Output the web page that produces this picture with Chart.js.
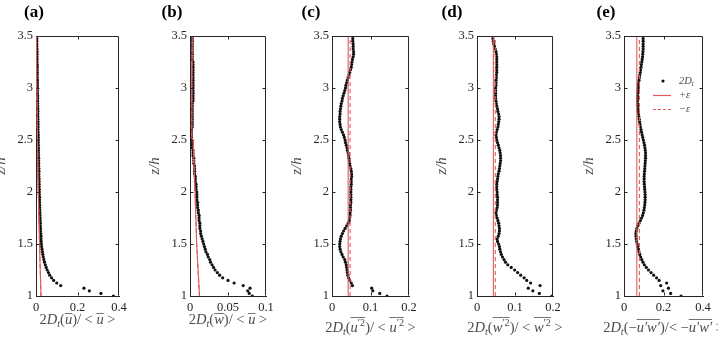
<!DOCTYPE html>
<html>
<head>
<meta charset="utf-8">
<script src="https://cdn.jsdelivr.net/npm/chart.js@4.4.1/dist/chart.umd.min.js"></script>
<style>
  body { margin: 0; background: #fff; width: 718px; height: 337px; overflow: hidden; position: relative; }
  canvas { position: absolute; top: 0; }
</style>
</head>
<body>
<canvas id="pa"></canvas>
<canvas id="pb"></canvas>
<canvas id="pc"></canvas>
<canvas id="pd"></canvas>
<canvas id="pe"></canvas>
<script>
// heights z/h shared by all five profiles
const zLevels = [1.000,1.025,1.050,1.075,1.100,1.125,1.150,1.175,1.200,1.225,1.250,1.275,1.300,1.325,1.350,1.375,1.400,1.425,1.450,1.475,
  1.500,1.525,1.550,1.575,1.600,1.625,1.650,1.675,1.700,1.725,1.750,1.775,1.800,1.825,1.850,1.875,1.900,1.925,1.950,1.975,
  2.000,2.025,2.050,2.075,2.100,2.125,2.150,2.175,2.200,2.225,2.250,2.275,2.300,2.325,2.350,2.375,2.400,2.425,2.450,2.475,
  2.500,2.525,2.550,2.575,2.600,2.625,2.650,2.675,2.700,2.725,2.750,2.775,2.800,2.825,2.850,2.875,2.900,2.925,2.950,2.975,
  3.000,3.025,3.050,3.075,3.100,3.125,3.150,3.175,3.200,3.225,3.250,3.275,3.300,3.325,3.350,3.375,3.400,3.425,3.450,3.475,3.500];

// 2D_t profiles (one value per z level)
const dtA = [0.373,0.313,0.257,0.231,0.119,0.100,0.085,0.075,0.066,0.060,0.054,0.049,0.045,0.041,0.038,0.035,0.033,0.031,0.029,0.027,
  0.026,0.025,0.024,0.024,0.023,0.022,0.022,0.021,0.021,0.020,0.020,0.019,0.019,0.018,0.018,0.018,0.017,0.017,0.017,0.016,
  0.016,0.016,0.015,0.015,0.015,0.015,0.014,0.014,0.014,0.014,0.013,0.013,0.013,0.013,0.012,0.012,0.012,0.012,0.011,0.011,
  0.011,0.011,0.011,0.010,0.010,0.010,0.010,0.010,0.009,0.009,0.009,0.009,0.009,0.008,0.008,0.008,0.008,0.008,0.007,0.007,
  0.007,0.007,0.007,0.007,0.006,0.006,0.006,0.006,0.006,0.006,0.005,0.005,0.005,0.005,0.005,0.005,0.004,0.004,0.004,0.004,0.004];
const dtB = [0.082,0.078,0.076,0.079,0.070,0.058,0.050,0.043,0.039,0.036,0.033,0.031,0.029,0.027,0.026,0.024,0.023,0.021,0.020,0.019,
  0.018,0.017,0.016,0.015,0.014,0.014,0.013,0.013,0.013,0.012,0.012,0.012,0.011,0.011,0.010,0.010,0.010,0.009,0.009,0.009,
  0.009,0.008,0.008,0.008,0.007,0.007,0.007,0.006,0.006,0.006,0.006,0.005,0.005,0.005,0.004,0.004,0.004,0.003,0.003,0.003,
  0.002,0.002,0.002,0.002,0.002,0.003,0.003,0.003,0.003,0.003,0.003,0.003,0.003,0.003,0.003,0.004,0.004,0.004,0.004,0.004,
  0.004,0.004,0.004,0.004,0.004,0.004,0.004,0.004,0.004,0.004,0.004,0.003,0.003,0.003,0.003,0.003,0.003,0.003,0.003,0.003,0.003];
const dtC = [0.143,0.124,0.106,0.103,0.053,0.050,0.046,0.043,0.041,0.040,0.039,0.038,0.037,0.035,0.033,0.029,0.026,0.023,0.021,0.020,
  0.020,0.021,0.022,0.024,0.027,0.030,0.034,0.038,0.042,0.045,0.046,0.047,0.047,0.048,0.048,0.048,0.049,0.049,0.049,0.049,
  0.049,0.049,0.049,0.050,0.050,0.050,0.051,0.051,0.050,0.049,0.047,0.046,0.045,0.044,0.043,0.042,0.040,0.039,0.037,0.035,
  0.034,0.032,0.030,0.027,0.024,0.022,0.021,0.020,0.020,0.020,0.021,0.021,0.022,0.023,0.024,0.026,0.027,0.029,0.031,0.033,
  0.035,0.036,0.038,0.040,0.042,0.044,0.046,0.048,0.050,0.051,0.052,0.053,0.055,0.056,0.056,0.055,0.055,0.055,0.054,0.054,0.054];
const dtD = [0.197,0.164,0.147,0.135,0.166,0.141,0.131,0.124,0.115,0.107,0.099,0.090,0.081,0.075,0.071,0.067,0.064,0.062,0.060,0.059,
  0.057,0.054,0.053,0.056,0.058,0.059,0.059,0.058,0.057,0.055,0.053,0.051,0.050,0.051,0.053,0.054,0.054,0.054,0.054,0.053,
  0.053,0.052,0.052,0.052,0.053,0.054,0.055,0.056,0.058,0.059,0.060,0.061,0.062,0.062,0.062,0.061,0.060,0.058,0.056,0.054,
  0.052,0.051,0.050,0.051,0.053,0.055,0.056,0.057,0.058,0.058,0.057,0.055,0.054,0.052,0.051,0.050,0.049,0.049,0.049,0.049,
  0.049,0.050,0.050,0.050,0.051,0.051,0.052,0.052,0.052,0.052,0.052,0.052,0.052,0.051,0.050,0.048,0.046,0.044,0.043,0.042,0.041];
const dtE = [0.289,0.236,0.197,0.225,0.186,0.216,0.178,0.165,0.150,0.137,0.124,0.113,0.103,0.096,0.090,0.084,0.080,0.076,0.073,0.070,
  0.067,0.064,0.062,0.061,0.060,0.062,0.065,0.070,0.076,0.083,0.089,0.094,0.098,0.101,0.103,0.105,0.106,0.107,0.107,0.107,
  0.106,0.105,0.104,0.103,0.102,0.102,0.102,0.103,0.104,0.105,0.106,0.107,0.108,0.109,0.109,0.109,0.108,0.106,0.104,0.101,
  0.098,0.095,0.092,0.089,0.086,0.083,0.081,0.079,0.077,0.075,0.074,0.072,0.071,0.070,0.069,0.069,0.069,0.069,0.070,0.071,
  0.072,0.073,0.074,0.076,0.078,0.080,0.082,0.084,0.086,0.088,0.090,0.092,0.094,0.095,0.096,0.097,0.097,0.097,0.097,0.097,0.097];

// error level epsilon (+ solid, - dashed)
const epsZa = [1, 1.5, 2, 2.5, 3, 3.5];
const epsA  = [0.024, 0.017, 0.011, 0.007, 0.004, 0.002];
const epsZb = [1, 1.5, 2, 2.5, 2.52, 3, 3.5];
const epsB  = [0.0125, 0.0088, 0.0066, 0.004, 0.002, 0.0025, 0.003];
const epsZ  = [1, 3.5];
const epsPlusC = [0.042, 0.042], epsMinusC = [0.047, 0.047];
const epsPlusD = [0.043, 0.043], epsMinusD = [0.048, 0.048];
const epsPlusE = [0.065, 0.065], epsMinusE = [0.078, 0.078];

const xMaxes = [0.4, 0.1, 0.2, 0.2, 0.4];
const xSteps = [0.2, 0.05, 0.1, 0.1, 0.2];
const panelTags = ['(a)', '(b)', '(c)', '(d)', '(e)'];
const legendLabels = ['2D', '+ε', '−ε'];

// axis titles as rich text pieces: it = italic, sub/sup, ov = overline height
const titleA = [{t:'2'},{t:'D',it:1},{t:'t',it:1,sub:1},{t:'('},{t:'u',it:1,ov:0.78},{t:')/ < '},{t:'u',it:1,ov:0.78},{t:' >'}];
const titleB = [{t:'2'},{t:'D',it:1},{t:'t',it:1,sub:1},{t:'('},{t:'w',it:1,ov:0.78},{t:')/ < '},{t:'u',it:1,ov:0.78},{t:' >'}];
const titleC = [{t:'2'},{t:'D',it:1},{t:'t',it:1,sub:1},{t:'('},{t:'u',it:1,ov:1.05},{t:'′2',sup:1,ov:1.05},{t:')/ < '},{t:'u',it:1,ov:1.05},{t:'′2',sup:1,ov:1.05},{t:' >'}];
const titleD = [{t:'2'},{t:'D',it:1},{t:'t',it:1,sub:1},{t:'('},{t:'w',it:1,ov:1.05},{t:'′2',sup:1,ov:1.05},{t:')/ < '},{t:'w',it:1,ov:1.05},{t:'′2',sup:1,ov:1.05},{t:' >'}];
const titleE = [{t:'2'},{t:'D',it:1},{t:'t',it:1,sub:1},{t:'(−'},{t:'u′w′',it:1,ov:0.9},{t:')/< −'},{t:'u′w′',it:1,ov:0.9},{t:' >'}];

const RED = '#e05a5a';
const INK = '#262626';
const GREY = '#4d4d4d';
const SERIF = '"Liberation Serif", "DejaVu Serif", serif';

function drawRich(ctx, segs, cx, baseline, size) {
  let w = 0;
  const parts = segs.map(s => {
    const fs = (s.sub || s.sup) ? size * 0.7 : size;
    const font = (s.it ? 'italic ' : '') + fs + 'px ' + SERIF;
    ctx.font = font;
    const sw = ctx.measureText(s.t).width;
    const p = {s, font, x: w, w: sw};
    w += sw;
    return p;
  });
  const x0 = cx - w / 2;
  ctx.textAlign = 'left';
  ctx.textBaseline = 'alphabetic';
  parts.forEach(p => {
    ctx.font = p.font;
    const dy = p.s.sub ? size * 0.22 : p.s.sup ? -size * 0.38 : 0;
    ctx.fillText(p.s.t, x0 + p.x, baseline + dy);
    if (p.s.ov) {
      const oy = Math.round(baseline - size * p.s.ov) + 0.5;
      ctx.beginPath();
      ctx.moveTo(x0 + p.x, oy);
      ctx.lineTo(x0 + p.x + p.w, oy);
      ctx.lineWidth = 0.8;
      ctx.strokeStyle = ctx.fillStyle;
      ctx.stroke();
    }
  });
}

// box, inward ticks, tag, x title, legend
const decor = {
  id: 'decor',
  afterDraw(chart, args, opts) {
    const {ctx, chartArea: a, scales: {x, y}} = chart;
    ctx.save();
    ctx.strokeStyle = INK;
    ctx.lineWidth = 1;
    const l = Math.round(a.left) + 0.5, r = Math.round(a.right) - 0.5;
    const t = Math.round(a.top) + 0.5, b = Math.round(a.bottom) - 0.5;
    ctx.beginPath();
    ctx.moveTo(l, t); ctx.lineTo(r, t); ctx.lineTo(r, b);
    x.ticks.forEach(tk => {
      if (tk.value <= x.min || tk.value >= x.max) return;
      const px = Math.round(x.getPixelForValue(tk.value)) + 0.5;
      ctx.moveTo(px, b); ctx.lineTo(px, b - 3);
      ctx.moveTo(px, t); ctx.lineTo(px, t + 3);
    });
    y.ticks.forEach(tk => {
      if (tk.value <= y.min || tk.value >= y.max) return;
      const py = Math.round(y.getPixelForValue(tk.value)) + 0.5;
      ctx.moveTo(l, py); ctx.lineTo(l + 3, py);
      ctx.moveTo(r, py); ctx.lineTo(r - 3, py);
    });
    ctx.stroke();

    ctx.fillStyle = '#000';
    ctx.font = 'bold 17px ' + SERIF;
    ctx.textAlign = 'center';
    ctx.textBaseline = 'middle';
    ctx.fillText(opts.tag, opts.tagX, 13);

    ctx.fillStyle = GREY;
    drawRich(ctx, opts.title, (a.left + a.right) / 2, opts.titleY, 14.5);

    if (opts.legend) {
      const lx = a.left + 29, ly = a.top + 45;
      ctx.fillStyle = '#111';
      ctx.beginPath();
      ctx.arc(lx + 10, ly, 1.6, 0, Math.PI * 2);
      ctx.fill();
      ctx.strokeStyle = RED;
      ctx.lineWidth = 1.2;
      ctx.beginPath();
      ctx.moveTo(lx, ly + 14.5); ctx.lineTo(lx + 18, ly + 14.5);
      ctx.stroke();
      ctx.setLineDash([3, 2]);
      ctx.beginPath();
      ctx.moveTo(lx, ly + 28.5); ctx.lineTo(lx + 18, ly + 28.5);
      ctx.stroke();
      ctx.setLineDash([]);
      ctx.fillStyle = GREY;
      ctx.textAlign = 'left';
      ctx.textBaseline = 'middle';
      ctx.font = 'italic 10.5px ' + SERIF;
      const dw = ctx.measureText(legendLabels[0]).width;
      ctx.fillText(legendLabels[0], lx + 26, ly);
      ctx.font = 'italic 7.5px ' + SERIF;
      ctx.fillText('t', lx + 26 + dw, ly + 3);
      ctx.font = 'italic 10.5px ' + SERIF;
      ctx.fillText(legendLabels[1], lx + 26, ly + 14);
      ctx.fillText(legendLabels[2], lx + 26, ly + 28);
    }
    ctx.restore();
  }
};

const panels = [
  {id: 'pa', L: 36,  R: 119, dots: dtA, ez: epsZa, ep: epsA, em: epsA, tagX: 34, title: titleA, titleY: 324},
  {id: 'pb', L: 190, R: 266, dots: dtB, ez: epsZb, ep: epsB, em: epsB, tagX: 172, title: titleB, titleY: 324},
  {id: 'pc', L: 332, R: 409, dots: dtC, ez: epsZ, ep: epsPlusC, em: epsMinusC, tagX: 311, title: titleC, titleY: 332},
  {id: 'pd', L: 477, R: 553, dots: dtD, ez: epsZ, ep: epsPlusD, em: epsMinusD, tagX: 452, title: titleD, titleY: 332},
  {id: 'pe', L: 624, R: 703, dots: dtE, ez: epsZ, ep: epsPlusE, em: epsMinusE, tagX: 606, title: titleE, titleY: 332, legend: true}
];

const PAD = 50;
const fmt = v => String(+Number(v).toFixed(3));

panels.forEach((p, i) => {
  const cv = document.getElementById(p.id);
  const w = (p.R - p.L) + 2 * PAD;
  cv.width = w; cv.height = 337;
  cv.style.left = (p.L - PAD) + 'px';
  cv.style.width = w + 'px'; cv.style.height = '337px';

  new Chart(cv, {
    type: 'scatter',
    data: {
      datasets: [
        {data: p.ez.map((z, k) => ({x: p.ep[k], y: z})), showLine: true, pointRadius: 0,
         borderColor: RED, borderWidth: 1.1},
        {data: p.ez.map((z, k) => ({x: p.em[k], y: z})), showLine: true, pointRadius: 0,
         borderColor: RED, borderWidth: 1.1, borderDash: [4, 3]},
        {data: zLevels.map((z, k) => ({x: p.dots[k], y: z})), pointRadius: 1.6,
         backgroundColor: '#111', borderWidth: 0}
      ]
    },
    options: {
      responsive: false,
      animation: false,
      devicePixelRatio: 1,
      layout: {padding: {left: 0, right: PAD, top: 36, bottom: 0}},
      plugins: {
        legend: {display: false},
        tooltip: {enabled: false},
        decor: {tag: panelTags[i], tagX: p.tagX - (p.L - PAD), title: p.title, titleY: p.titleY, legend: !!p.legend}
      },
      scales: {
        x: {
          type: 'linear', min: 0, max: xMaxes[i],
          ticks: {stepSize: xSteps[i], callback: fmt, color: INK, padding: 4, maxRotation: 0, autoSkip: false,
                  font: {family: SERIF, size: 12.5}},
          grid: {drawOnChartArea: false, drawTicks: false},
          border: {color: INK, width: 1},
          afterFit: s => { s.height = 41; }
        },
        y: {
          min: 1, max: 3.5,
          ticks: {stepSize: 0.5, callback: fmt, color: INK, padding: 3, autoSkip: false,
                  font: {family: SERIF, size: 12.5}},
          grid: {drawOnChartArea: false, drawTicks: false},
          border: {color: INK, width: 1},
          title: {display: true, text: 'z/h', color: GREY, padding: {top: 6, bottom: 0},
                  font: {family: SERIF, size: 15, style: 'italic'}},
          afterFit: s => { s.width = PAD; }
        }
      }
    },
    plugins: [decor]
  });
});
</script>
</body>
</html>
